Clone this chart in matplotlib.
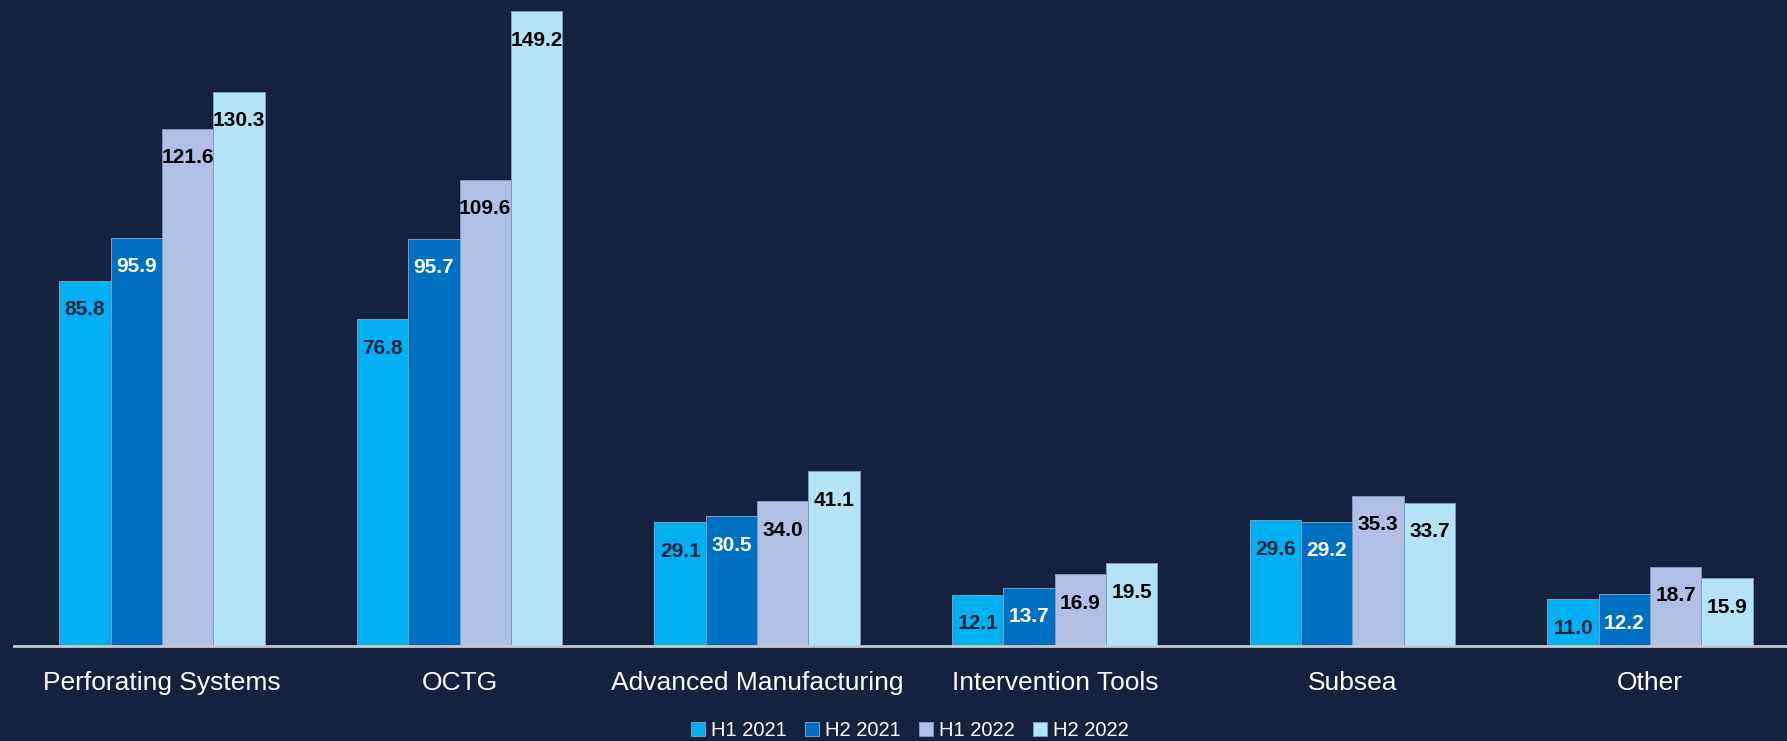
import matplotlib
matplotlib.use('Agg')
import matplotlib.pyplot as plt
import numpy as np

plt.rcParams['font.family'] = ['Liberation Sans', 'DejaVu Sans']

# Revenue by product line, half-year periods
categories = ['Perforating Systems', 'OCTG', 'Advanced Manufacturing',
              'Intervention Tools', 'Subsea', 'Other']
periods = ['H1 2021', 'H2 2021', 'H1 2022', 'H2 2022']
h1_2021 = [85.8, 76.8, 29.1, 12.1, 29.6, 11.0]
h2_2021 = [95.9, 95.7, 30.5, 13.7, 29.2, 12.2]
h1_2022 = [121.6, 109.6, 34.0, 16.9, 35.3, 18.7]
h2_2022 = [130.3, 149.2, 41.1, 19.5, 33.7, 15.9]

BG = '#15223F'
bar_colors = ['#00B0F0', '#0070C0', '#B0C0E4', '#B3E3F5']
label_colors = [BG, 'white', 'black', 'black']

fig = plt.figure(figsize=(17.87, 7.41), dpi=100, facecolor=BG)
ax = fig.add_axes([0.0078, 0.128, 0.9922, 0.872], facecolor=BG)

x = np.arange(len(categories))
width = 0.1725
series = [h1_2021, h2_2021, h1_2022, h2_2022]

handles = []
for i, vals in enumerate(series):
    pos = x + (i - 1.5) * width
    b = ax.bar(pos, vals, width, color=bar_colors[i], edgecolor='#7F98BD',
               linewidth=0.7, label=periods[i], zorder=2)
    handles.append(b)
    # value labels sit just inside the top of each bar
    for xp, v in zip(pos, vals):
        ax.annotate(f'{v:.1f}', (xp, v), xytext=(0, -29), textcoords='offset pixels',
                    ha='center', va='center', fontsize=15, fontweight='bold',
                    color=label_colors[i], zorder=3)

ax.set_xlim(-0.497, 5.46)
ax.set_ylim(0, 151.8)
for s in ['top', 'right', 'left']:
    ax.spines[s].set_visible(False)
ax.spines['bottom'].set_color('#C8C8C8')
ax.spines['bottom'].set_linewidth(2)
ax.set_yticks([])
ax.set_xticks(x)
ax.set_xticklabels(categories, fontsize=19, color='white')
ax.tick_params(axis='x', length=0, pad=18)

leg = fig.legend(handles=handles, labels=periods, loc='center',
                 bbox_to_anchor=(0.509, 0.014), ncol=4, frameon=False,
                 fontsize=14.5, labelcolor='white', handlelength=0.7,
                 handleheight=0.7, handletextpad=0.3, columnspacing=0.9)

fig.savefig('out.png', dpi=100, facecolor=BG)
